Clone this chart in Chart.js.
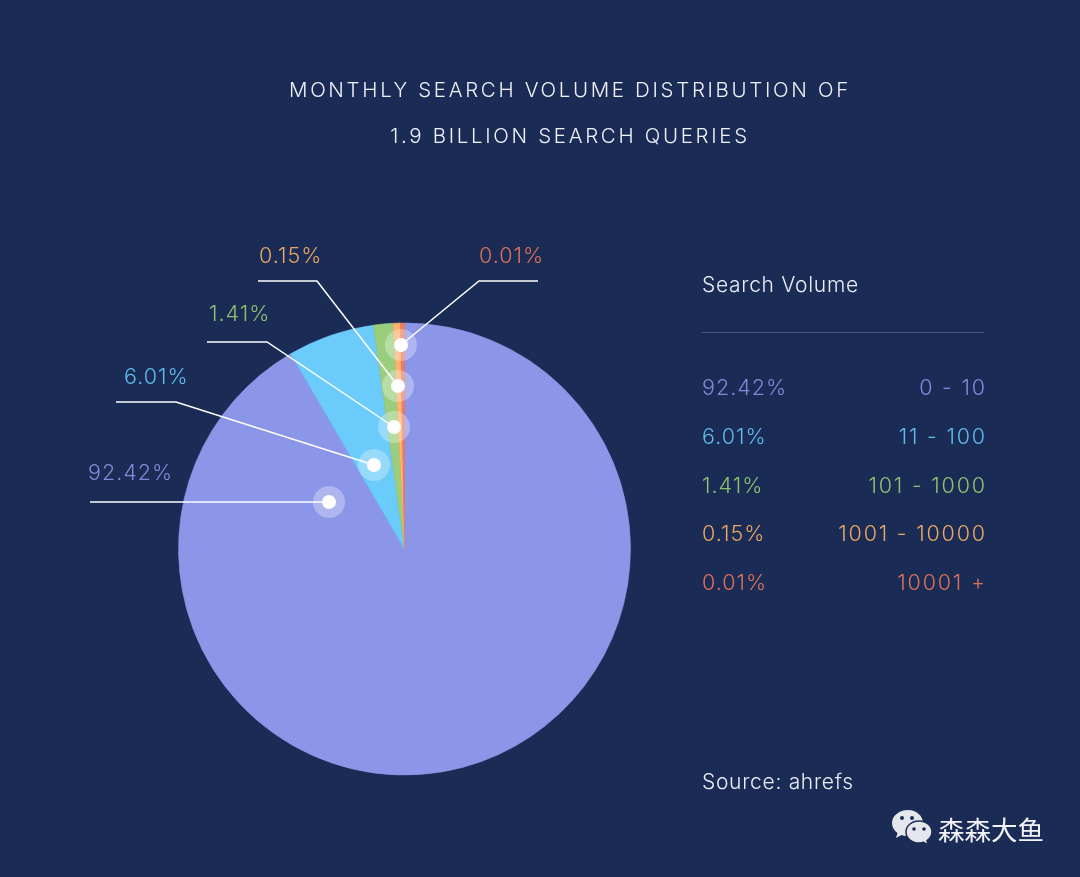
<!DOCTYPE html>
<html>
<head>
<meta charset="utf-8">
<script src="https://cdn.jsdelivr.net/npm/chart.js@4"></script>
<style>
  html, body { margin: 0; padding: 0; background: #1a2b55; }
  #wrap { position: relative; width: 1080px; height: 877px; overflow: hidden; font-family: Inter, Lato, sans-serif; font-weight: 300; }
  #pie { position: absolute; left: 0; top: 0; }
  .t { position: absolute; white-space: nowrap; transform: translateY(-50%); font-size: 21.5px; letter-spacing: 1px; }
  .range { letter-spacing: 1.8px; }
  .title { left: 0; width: 1140px; text-align: center; color: #eef1f8; font-size: 20.5px; letter-spacing: 2.67px; }
  .head { left: 702px; color: #e9edf5; font-size: 21px; letter-spacing: 0.7px; }
  .rule { position: absolute; left: 702px; width: 282px; top: 332px; height: 1px; background: #46557a; }
  .cjk { font-family: "Noto Sans CJK SC", sans-serif; font-weight: 400; font-size: 26.5px; letter-spacing: 0; color: #f2f3f6; left: 938px; }
</style>
</head>
<body>
<div id="wrap">
  <canvas id="pie" width="1080" height="877"></canvas>
  <div class="t title" style="top:89px">MONTHLY SEARCH VOLUME DISTRIBUTION OF</div>
  <div class="t title" style="top:135px">1.9 BILLION SEARCH QUERIES</div>
  <div class="t head" style="top:284px">Search Volume</div>
  <div class="rule"></div>
  <div class="t head" style="top:781px">Source: ahrefs</div>
  <svg style="position:absolute;left:890px;top:808px" width="44" height="40" viewBox="0 0 44 40">
    <path d="M18 2C9 2 2 8 2 15c0 4 2 7.500 5.500 10L6 30l5.500-3c2 .6 4 1 6.500 1 8.500 0 15-6 15-13S26.500 2 18 2z" fill="#e6e7ec"/>
    <path d="M29 13c-7.500 0-13 5-13 11s5.500 11 13 11c1.500 0 3-.2 4.500-.7L38 37l-1-4.500c3-2 5-5 5-8.500 0-6-5.500-11-13-11z" fill="#e6e7ec" stroke="#1a2b55" stroke-width="1.500"/>
    <circle cx="12" cy="10" r="2" fill="#1a2b55"/><circle cx="22" cy="10" r="2" fill="#1a2b55"/>
    <circle cx="24" cy="21" r="1.800" fill="#1a2b55"/><circle cx="34" cy="21" r="1.800" fill="#1a2b55"/>
  </svg>
  <div class="t cjk" style="top:828px">森森大鱼</div>
</div>
<script>
// legend text, top to bottom
const shareLabels = ['92.42%', '6.01%', '1.41%', '0.15%', '0.01%'];
const volumeRanges = ['0 - 10', '11 - 100', '101 - 1000', '1001 - 10000', '10001 +'];

// slice sizes as drawn in the picture (the two thin ones are drawn wider than their labels)
const sliceValues = [91.6, 6.2, 1.41, 0.51, 0.28];

const sliceColors = ['#8b96e9', '#6bcbfb', '#9ace7d', '#fdb26f', '#ee7b63'];
const textColors = ['#7f8bd8', '#5fbbea', '#8cc06e', '#e9a763', '#dd7059'];

// callouts: label spot, then line from free end through elbow to the dot
const callouts = [
  { labelX: 88, labelY: 471.5, path: [[90, 502], [329, 502]] },
  { labelX: 124, labelY: 375.5, path: [[116, 402], [176, 402], [374, 465]] },
  { labelX: 209, labelY: 312.5, path: [[207, 342], [267, 342], [394, 427]] },
  { labelX: 259, labelY: 254.5, path: [[258, 281], [317, 281], [398, 386]] },
  { labelX: 479, labelY: 254.5, path: [[538, 281], [479, 281], [401, 345]] }
];

const wrap = document.getElementById('wrap');

function addText(text, color, y, left, right, cls) {
  const el = document.createElement('div');
  el.className = cls;
  el.textContent = text;
  el.style.color = color;
  el.style.top = y + 'px';
  if (left !== null) el.style.left = left + 'px';
  if (right !== null) el.style.right = right + 'px';
  wrap.appendChild(el);
}

// legend rows
const rowY = [386.5, 435.5, 484.5, 532.5, 581.5];
shareLabels.forEach((label, i) => {
  addText(label, textColors[i], rowY[i], 702, null, 't');
  addText(volumeRanges[i], textColors[i], rowY[i], null, 93.2, 't range');
  addText(label, textColors[i], callouts[i].labelY, callouts[i].labelX, null, 't');
});

const calloutPlugin = {
  id: 'callouts',
  afterDatasetsDraw(chart) {
    const ctx = chart.ctx;
    ctx.save();
    callouts.forEach((c) => {
      const dot = c.path[c.path.length - 1];
      ctx.fillStyle = 'rgba(255,255,255,0.3)';
      ctx.beginPath();
      ctx.arc(dot[0], dot[1], 16, 0, Math.PI * 2);
      ctx.fill();
    });
    callouts.forEach((c) => {
      const dot = c.path[c.path.length - 1];
      ctx.strokeStyle = '#ffffff';
      ctx.lineWidth = 1.5;
      ctx.beginPath();
      c.path.forEach((p, i) => (i ? ctx.lineTo(p[0], p[1]) : ctx.moveTo(p[0], p[1])));
      ctx.stroke();
      ctx.fillStyle = '#ffffff';
      ctx.beginPath();
      ctx.arc(dot[0], dot[1], 7, 0, Math.PI * 2);
      ctx.fill();
    });
    ctx.restore();
  }
};

new Chart(document.getElementById('pie'), {
  type: 'pie',
  data: {
    labels: volumeRanges,
    datasets: [{
      data: sliceValues,
      backgroundColor: sliceColors,
      // same colour border hides the hairline seams between slices
      borderColor: sliceColors,
      borderWidth: 0.6
    }]
  },
  options: {
    responsive: false,
    animation: false,
    layout: { padding: { left: 178.2, right: 449.2, top: 322.7, bottom: 101.7 } },
    plugins: {
      legend: { display: false },
      tooltip: { enabled: false }
    }
  },
  plugins: [calloutPlugin]
});
</script>
</body>
</html>
